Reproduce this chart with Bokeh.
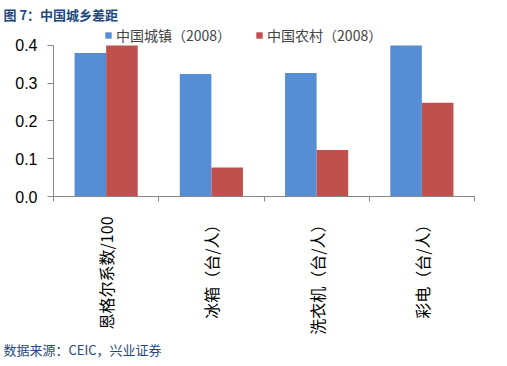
import math
from bokeh.plotting import figure
from bokeh.models import (ColumnDataSource, FixedTicker, Legend, LegendItem,
                          Range1d, LinearAxis, Title)
from bokeh.transform import dodge
from bokeh.embed import file_html
from bokeh.resources import INLINE

# ---- data ----
categories = ["恩格尔系数/100", "冰箱（台/人）", "洗衣机（台/人）", "彩电（台/人）"]
urban = [0.380, 0.324, 0.327, 0.400]
rural = [0.400, 0.077, 0.123, 0.248]
series_names = ["中国城镇（2008）", "中国农村（2008）"]
y_ticks = [0.0, 0.1, 0.2, 0.3, 0.4]
title_text = "图 7：中国城乡差距"
source_text = "数据来源：CEIC，兴业证券"

BLUE = "#558ED5"
RED = "#C0504D"
NAVY = "#1F497D"
AXIS = "#868686"
CJK = "Noto Sans CJK SC"

n = len(categories)
centers = [i + 0.5 for i in range(n)]
src = ColumnDataSource(dict(x=centers, urban=urban, rural=rural, cat=categories))

# frame: 0.0 at y=197, 0.4 at y=45 -> 380 px per unit; frame extended up to y=25
W, H = 491, 358
FRAME_TOP, FRAME_BOTTOM = 25, 197
y_top = y_ticks[-1] + (45 - FRAME_TOP) / 380.0
p = figure(width=W, height=H, output_backend="svg", toolbar_location=None,
           title=None, x_range=Range1d(0, n), y_range=Range1d(0, y_top),
           x_axis_type=None, y_axis_type=None,
           min_border_left=53, min_border_right=17, min_border_top=FRAME_TOP,
           min_border_bottom=H - FRAME_BOTTOM)
p.outline_line_color = None
p.xgrid.visible = False
p.ygrid.visible = False

r1 = p.vbar(x=dodge("x", -0.15, range=p.x_range), top="urban", width=0.3,
            source=src, fill_color=BLUE, line_color=None)
r2 = p.vbar(x=dodge("x", 0.15, range=p.x_range), top="rural", width=0.3,
            source=src, fill_color=RED, line_color=None)

# y axis
yaxis = LinearAxis(ticker=FixedTicker(ticks=y_ticks, minor_ticks=[]),
                   bounds=(y_ticks[0], y_ticks[-1]))
yaxis.major_label_overrides = {t: f"{t:.1f}" for t in y_ticks}
yaxis.axis_line_color = AXIS
yaxis.major_tick_line_color = AXIS
yaxis.major_tick_out = 6
yaxis.major_tick_in = 0
yaxis.minor_tick_line_color = None
yaxis.major_label_text_font = "Liberation Sans"
yaxis.major_label_text_font_size = "16px"
yaxis.major_label_text_color = "#000000"
yaxis.major_label_standoff = 10
p.add_layout(yaxis, "left")

# x axis: labels at centres, ticks at category boundaries
xaxis = LinearAxis(ticker=FixedTicker(ticks=centers, minor_ticks=list(range(n + 1))))
xaxis.major_label_overrides = {c: lab for c, lab in zip(centers, categories)}
xaxis.major_label_orientation = math.pi / 2
xaxis.axis_line_color = AXIS
xaxis.major_tick_line_color = None
xaxis.minor_tick_line_color = AXIS
xaxis.minor_tick_out = 5
xaxis.minor_tick_in = 0
xaxis.major_label_text_font = CJK
xaxis.major_label_text_font_size = "16px"
xaxis.major_label_text_color = "#000000"
xaxis.major_label_standoff = 14
p.add_layout(xaxis, "below")

legend = Legend(items=[LegendItem(label=series_names[0], renderers=[r1]),
                       LegendItem(label=series_names[1], renderers=[r2])],
                orientation="horizontal", location=(51, 151),
                glyph_width=8, glyph_height=8, label_standoff=4, spacing=24,
                padding=0, margin=0, border_line_color=None,
                background_fill_alpha=0, label_text_font=CJK,
                label_text_font_size="14px", label_height=16)
p.add_layout(legend, "center")

p.add_layout(Title(text=title_text, align="left", offset=-50, standoff=3,
                   text_font=CJK, text_font_style="bold", text_font_size="13px",
                   text_color=NAVY), "above")
p.add_layout(Title(text=source_text, align="left", offset=-50, standoff=0,
                   text_font=CJK, text_font_style="normal", text_font_size="13px",
                   text_color=NAVY), "below")

open("out.html", "w").write(file_html(p, INLINE))
